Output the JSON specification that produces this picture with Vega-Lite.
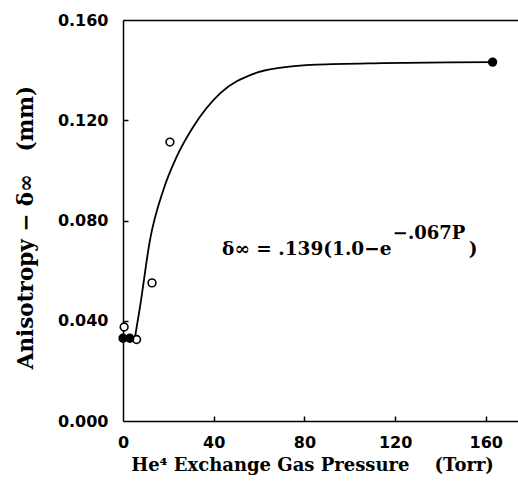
{
  "$schema": "https://vega.github.io/schema/vega-lite/v6.json",
  "autosize": {"type": "none"},
  "padding": {"left": 123, "top": 20, "right": 0, "bottom": 66},
  "width": 395,
  "height": 401,
  "background": "white",
  "config": {
    "view": {"stroke": null},
    "axis": {
      "domainColor": "black", "domainWidth": 1.5,
      "tickColor": "black", "tickWidth": 1.5, "tickSize": 5,
      "grid": false, "labelFlush": false,
      "labelFont": "DejaVu Sans", "labelFontWeight": "bold", "labelFontSize": 16, "labelColor": "black",
      "titleFont": "DejaVu Serif", "titleFontWeight": "bold", "titleFontSize": 20, "titleColor": "black"
    }
  },
  "resolve": {"axis": {"x": "independent", "y": "independent"}},
  "datasets": {
    "curve": [
      {"P": 5.3, "d": 0.0335}, {"P": 7.5, "d": 0.0455}, {"P": 11.9, "d": 0.0722},
      {"P": 17.8, "d": 0.0922}, {"P": 23.7, "d": 0.1055}, {"P": 31, "d": 0.1174},
      {"P": 42.8, "d": 0.1307}, {"P": 57.5, "d": 0.1385}, {"P": 70.6, "d": 0.1411},
      {"P": 85.4, "d": 0.1422}, {"P": 114.7, "d": 0.1428}, {"P": 144, "d": 0.1431},
      {"P": 163, "d": 0.1432}
    ],
    "points": [
      {"P": 0.5, "d": 0.0375, "kind": "open"},
      {"P": 6, "d": 0.0325, "kind": "open"},
      {"P": 12.8, "d": 0.0551, "kind": "open"},
      {"P": 20.7, "d": 0.1113, "kind": "open"},
      {"P": 0, "d": 0.0330, "kind": "filled"},
      {"P": 3, "d": 0.0330, "kind": "filled"},
      {"P": 163, "d": 0.1432, "kind": "filled"}
    ],
    "labels": [
      {"P": 43.7, "d": 0.0662, "t": "δ∞ = .139(1.0−e", "part": "base"},
      {"P": 119, "d": 0.0728, "t": "−.067P", "part": "sup"},
      {"P": 152.5, "d": 0.0662, "t": ")", "part": "base"}
    ]
  },
  "layer": [
    {
      "data": {"name": "curve"},
      "mark": {"type": "line", "color": "black", "strokeWidth": 1.8, "interpolate": "monotone"},
      "encoding": {
        "x": {"field": "P", "type": "quantitative", "scale": {"domain": [0, 174.2], "nice": false},
          "axis": {"orient": "bottom", "values": [0, 40, 80, 120, 160], "ticks": false, "labelPadding": 13, "title": "He⁴ Exchange Gas Pressure\u00a0\u00a0\u00a0\u00a0(Torr)", "titleFontSize": 18, "titleX": 189, "titleY": 44, "titleBaseline": "middle", "titleAlign": "center"}},
        "y": {"field": "d", "type": "quantitative", "scale": {"domain": [0, 0.16], "nice": false},
          "axis": {"orient": "left", "values": [0, 0.04, 0.08, 0.12, 0.16], "format": ".3f", "ticks": false, "labelPadding": 15, "title": "Anisotropy − δ∞\u00a0\u00a0\u00a0(mm)", "titleFontSize": 21.5, "titleX": -97, "titleY": 207, "titleBaseline": "middle"}}
      }
    },
    {
      "data": {"name": "points"},
      "mark": {"type": "point", "shape": "circle", "size": 60, "strokeWidth": 1.6, "opacity": 1},
      "encoding": {
        "x": {"field": "P", "type": "quantitative",
          "axis": {"orient": "top", "ticks": false, "labels": false, "title": null, "domain": true}},
        "y": {"field": "d", "type": "quantitative",
          "axis": {"orient": "right", "offset": -395, "values": [0.04, 0.08, 0.12], "domain": false, "labels": false, "title": null, "ticks": true}},
        "color": {"value": "black"},
        "fill": {"field": "kind", "type": "nominal", "scale": {"domain": ["open", "filled"], "range": ["white", "black"]}, "legend": null},
        "fillOpacity": {"value": 1}
      }
    },
    {
      "data": {"name": "labels"},
      "transform": [{"filter": "datum.part == 'base'"}],
      "mark": {"type": "text", "align": "left", "baseline": "alphabetic", "font": "DejaVu Serif", "fontWeight": "bold", "fontSize": 18.5, "color": "black"},
      "encoding": {
        "x": {"field": "P", "type": "quantitative",
          "axis": {"orient": "top", "offset": -401, "values": [40, 80, 120, 160], "domain": false, "labels": false, "title": null, "ticks": true}},
        "y": {"field": "d", "type": "quantitative", "axis": null},
        "text": {"field": "t"}
      }
    },
    {
      "data": {"name": "labels"},
      "transform": [{"filter": "datum.part == 'sup'"}],
      "mark": {"type": "text", "align": "left", "baseline": "alphabetic", "font": "DejaVu Serif", "fontWeight": "bold", "fontSize": 18, "color": "black"},
      "encoding": {
        "x": {"field": "P", "type": "quantitative", "axis": null},
        "y": {"field": "d", "type": "quantitative", "axis": null},
        "text": {"field": "t"}
      }
    }
  ]
}
